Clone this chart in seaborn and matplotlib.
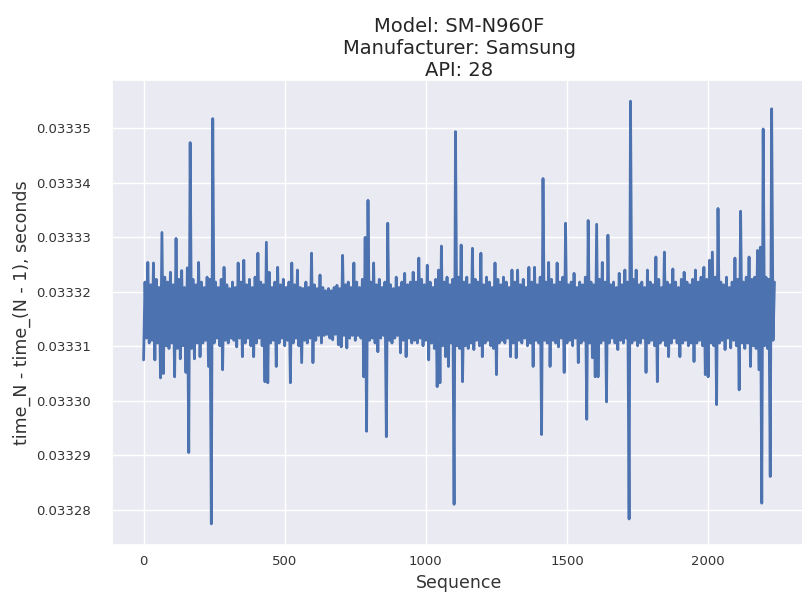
import numpy as np
import pandas as pd
import matplotlib
matplotlib.use('Agg')
import matplotlib.pyplot as plt
from matplotlib.ticker import MultipleLocator, FormatStrFormatter
import seaborn as sns

# frame-to-frame interval, in microseconds
# one (low, high) pair per block of 10 frames
bin_size = 10

hi_us = [
    33321.8, 33325.4, 33321.3, 33325.3, 33322.3, 33320.8, 33330.9, 33322.7, 33321.8, 33323.6, 33321.3, 33329.8, 33322.3, 33323.9, 33320.8, 33324.4,
    33347.4, 33322.3, 33321.3, 33325.4, 33321.8, 33320.8, 33322.7, 33322.3, 33351.8, 33321.8, 33320.8, 33322.3, 33324.5, 33321.3, 33320.6, 33321.8,
    33320.8, 33325.3, 33321.8, 33325.8, 33321.3, 33322.3, 33320.8, 33322.7, 33327.1, 33321.8, 33321.3, 33329.1, 33323.6, 33320.8, 33321.8, 33324.5,
    33321.3, 33322.3, 33320.8, 33321.8, 33325.3, 33321.3, 33324.0, 33320.8, 33320.6, 33321.8, 33320.8, 33327.1, 33321.3, 33320.6, 33323.1, 33320.8,
    33320.2, 33320.6, 33320.2, 33320.8, 33321.2, 33320.6, 33326.7, 33321.3, 33321.8, 33320.8, 33325.3, 33321.8, 33320.8, 33322.3, 33330.0, 33336.8,
    33321.8, 33325.3, 33321.3, 33322.3, 33320.8, 33321.8, 33332.6, 33321.3, 33320.6, 33322.7, 33320.8, 33321.8, 33323.4, 33321.3, 33321.8, 33323.6,
    33321.8, 33326.2, 33322.3, 33321.3, 33324.9, 33321.8, 33320.8, 33322.3, 33324.0, 33328.4, 33321.8, 33322.7, 33321.3, 33322.3, 33349.4, 33322.7,
    33328.6, 33321.8, 33322.7, 33321.3, 33328.0, 33322.3, 33321.8, 33327.1, 33321.3, 33322.7, 33321.8, 33320.8, 33325.3, 33322.3, 33321.3, 33322.7,
    33321.8, 33320.8, 33324.0, 33321.8, 33324.0, 33321.3, 33322.3, 33320.8, 33324.5, 33321.8, 33324.5, 33321.3, 33322.7, 33340.8, 33321.8, 33325.4,
    33322.3, 33321.3, 33325.3, 33321.8, 33322.7, 33332.6, 33321.3, 33321.8, 33323.4, 33320.8, 33321.8, 33321.3, 33322.7, 33333.1, 33321.8, 33321.3,
    33332.4, 33322.3, 33325.4, 33321.8, 33330.4, 33321.3, 33321.8, 33320.8, 33323.4, 33321.3, 33324.0, 33321.8, 33355.0, 33322.3, 33324.0, 33321.3,
    33321.8, 33320.8, 33324.0, 33321.8, 33321.3, 33326.4, 33322.3, 33320.8, 33327.3, 33321.8, 33321.3, 33324.2, 33321.8, 33320.8, 33322.3, 33323.6,
    33321.8, 33321.3, 33322.3, 33324.0, 33321.8, 33322.7, 33324.5, 33322.3, 33325.8, 33327.3, 33322.7, 33335.3, 33321.8, 33321.3, 33322.7, 33320.8,
    33321.8, 33326.2, 33322.3, 33334.8, 33321.8, 33322.7, 33326.4, 33322.3, 33322.7, 33327.6, 33328.2, 33349.9, 33322.7, 33322.3, 33353.6, 33321.8,
]

lo_us = [
    33307.5, 33311.5, 33310.6, 33311.1, 33307.5, 33310.6, 33304.2, 33305.0, 33310.1, 33309.6, 33310.6, 33304.4, 33309.6, 33307.7, 33310.1, 33305.2,
    33290.5, 33309.6, 33307.7, 33310.6, 33308.1, 33310.6, 33311.1, 33306.3, 33277.4, 33310.6, 33311.5, 33310.1, 33305.7, 33311.1, 33310.6, 33311.5,
    33311.1, 33309.9, 33311.5, 33308.1, 33310.6, 33311.5, 33310.1, 33308.1, 33310.6, 33311.5, 33310.1, 33303.5, 33303.3, 33310.6, 33311.1, 33306.3,
    33310.6, 33311.5, 33310.1, 33311.1, 33303.3, 33310.6, 33311.5, 33310.1, 33307.0, 33311.1, 33310.6, 33311.5, 33307.0, 33311.1, 33312.0, 33310.6,
    33312.0, 33312.2, 33311.5, 33311.2, 33312.2, 33310.3, 33309.9, 33312.0, 33309.7, 33311.5, 33312.0, 33311.1, 33312.0, 33311.5, 33304.4, 33294.4,
    33311.1, 33311.5, 33310.6, 33309.0, 33311.5, 33312.0, 33293.4, 33311.1, 33310.6, 33311.5, 33312.0, 33308.8, 33311.1, 33308.1, 33311.5, 33310.6,
    33311.1, 33310.6, 33311.5, 33310.1, 33311.1, 33307.5, 33310.6, 33309.6, 33302.6, 33303.3, 33310.1, 33308.1, 33306.3, 33310.6, 33281.0, 33310.1,
    33309.6, 33303.5, 33310.1, 33309.6, 33310.6, 33309.4, 33311.1, 33310.1, 33308.1, 33310.6, 33311.1, 33310.1, 33309.6, 33304.8, 33310.6, 33311.1,
    33310.6, 33311.5, 33308.1, 33310.6, 33307.9, 33311.1, 33310.6, 33311.5, 33310.1, 33310.6, 33306.3, 33311.1, 33310.6, 33293.8, 33311.1, 33310.6,
    33306.3, 33311.1, 33310.6, 33309.9, 33311.5, 33305.2, 33310.6, 33311.1, 33310.1, 33311.5, 33307.0, 33310.6, 33311.1, 33296.6, 33310.6, 33307.9,
    33304.4, 33304.4, 33310.6, 33311.1, 33299.8, 33310.6, 33311.5, 33310.6, 33309.4, 33311.1, 33310.6, 33311.5, 33278.3, 33310.6, 33311.1, 33310.1,
    33310.6, 33311.5, 33305.2, 33310.6, 33311.1, 33310.1, 33303.5, 33310.6, 33311.1, 33310.1, 33308.1, 33310.6, 33311.5, 33310.6, 33308.1, 33310.6,
    33311.1, 33310.1, 33310.6, 33307.2, 33310.6, 33311.1, 33310.1, 33304.8, 33304.4, 33310.6, 33310.1, 33299.3, 33310.6, 33311.1, 33309.4, 33311.5,
    33309.7, 33311.1, 33310.1, 33302.0, 33310.6, 33309.6, 33310.6, 33306.3, 33310.1, 33309.6, 33305.7, 33281.2, 33310.1, 33309.6, 33286.1, 33311.1,
]

title_lines = ["Model: SM-N960F", "Manufacturer: Samsung", "API: 28"]
x_label = "Sequence"
y_label = "time_N - time_(N - 1), seconds"

# low point at the start of each block, high point half way through it
start = np.arange(len(lo_us)) * bin_size
seq = np.column_stack([start, start + bin_size // 2]).ravel()
dt = np.column_stack([lo_us, hi_us]).ravel() / 1e6
df = pd.DataFrame({"Sequence": seq, "dt": dt})

sns.set_theme(style="darkgrid")
plt.rcParams['font.family'] = ['DejaVu Sans']

fig = plt.figure(figsize=(8.02, 5.93), dpi=100)
# axes run slightly past the right edge, as in the cropped screenshot
ax = fig.add_axes([0.1397, 0.0809, 0.8653, 0.7841])

sns.lineplot(data=df, x="Sequence", y="dt", ax=ax, color="#4c72b0",
             linewidth=2.0, estimator=None, sort=False)

ax.xaxis.set_major_locator(MultipleLocator(500))
ax.yaxis.set_major_locator(MultipleLocator(1e-5))
ax.yaxis.set_major_formatter(FormatStrFormatter('%.5f'))
ax.tick_params(axis='y', length=0, pad=15.5, labelsize=9.5, labelcolor='#333333')
ax.tick_params(axis='x', length=0, pad=7.0, labelsize=9.5, labelcolor='#333333')

ax.set_title("\n".join(title_lines), fontsize=14, pad=3, color='#262626')
ax.set_xlabel(x_label, fontsize=12.5, color='#333333')
ax.set_ylabel(y_label, fontsize=12.5, color='#333333')
ax.yaxis.set_label_coords(-0.117, 0.5)
ax.xaxis.set_label_coords(0.5, -0.062)

fig.savefig("out.png", dpi=100)
plt.close(fig)
